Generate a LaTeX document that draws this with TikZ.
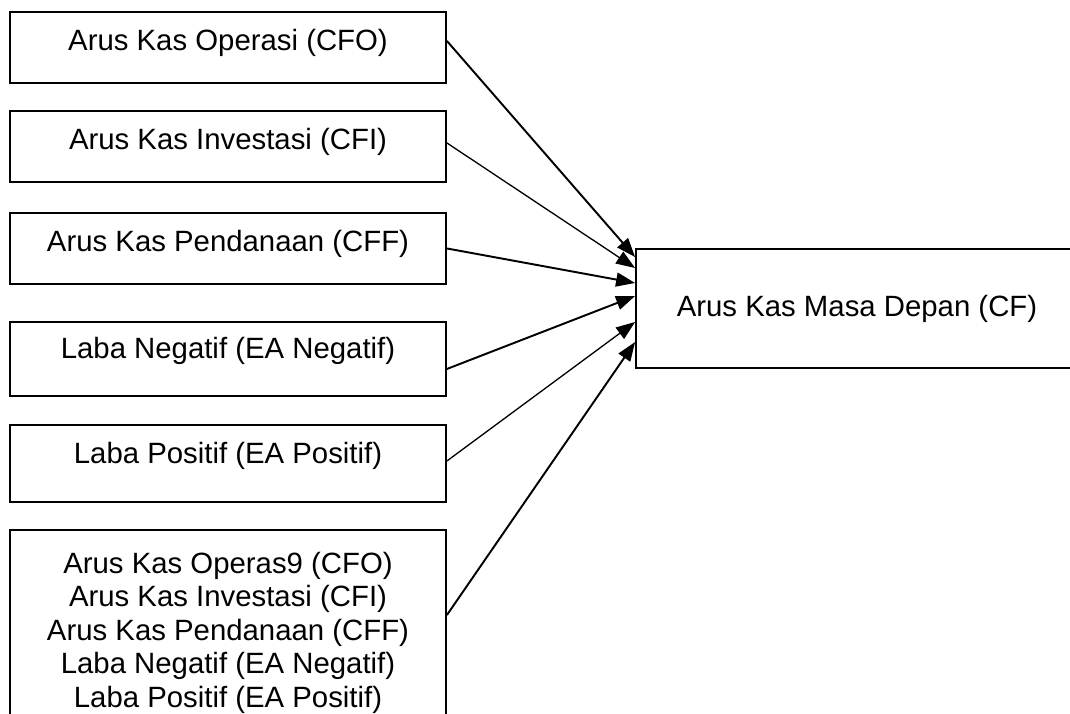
\documentclass[tikz,border=0pt]{standalone}
\usepackage{fontspec}
\setmainfont{Liberation Sans}
\usepackage{tikz}
\usetikzlibrary{arrows.meta}
\tikzset{
    kotak/.style={draw=black, line width=1.1pt, minimum width=8.72cm, inner sep=0pt,
        text height=0.77cm, text depth=0.65cm, anchor=north},
    panah/.style={-{Triangle[length=3.8mm, width=2.8mm]}, line width=1.1pt},
    panahtipis/.style={-{Triangle[length=3.8mm, width=2.8mm]}, line width=0.75pt}}

\begin{document}
\begin{tikzpicture}[x=0.02cm, y=-0.02cm,
    font=\fontsize{16.7pt}{19.1pt}\selectfont]

    \useasboundingbox (0,0) rectangle (1070,713);
    \clip (0,0) rectangle (1070,713);

    \node[kotak] (cfo) at (228,11) {Arus Kas Operasi (CFO)};
    \node[kotak] (cfi) at (228,110) {Arus Kas Investasi (CFI)};
    \node[kotak] (cff) at (228,212) {Arus Kas Pendanaan (CFF)};
    \node[kotak, text height=0.74cm, text depth=0.74cm] (eaneg) at (228,321) {Laba Negatif (EA Negatif)};
    \node[kotak, text height=0.78cm, text depth=0.76cm] (eapos) at (228,424) {Laba Positif (EA Positif)};
    \node[draw=black, line width=1.1pt, minimum width=8.72cm, inner xsep=0pt, inner ysep=0.44cm,
        align=center, anchor=north] (gabungan) at (228,529)
        {Arus Kas Operas9 (CFO)\\Arus Kas Investasi (CFI)\\Arus Kas Pendanaan (CFF)\\Laba Negatif (EA Negatif)\\Laba Positif (EA Positif)};

    \node[draw=black, line width=1.1pt, minimum width=8.84cm, minimum height=2.38cm] (cf) at (857,308.5) {Arus Kas Masa Depan (CF)};

    \draw[panah] ([yshift=0.13cm]cfo.east) -- ([yshift=1.03cm]cf.west);
    \draw[panahtipis] ([yshift=0.07cm]cfi.east) -- ([yshift=0.81cm]cf.west);
    \draw[panah] (cff.east) -- ([yshift=0.51cm]cf.west);
    \draw[panah] ([yshift=-0.2cm]eaneg.east) -- ([yshift=0.25cm]cf.west);
    \draw[panahtipis] ([yshift=0.05cm]eapos.east) -- ([yshift=-0.27cm]cf.west);
    \draw[panah] ([yshift=-1.72cm]gabungan.north east) -- ([yshift=-0.67cm]cf.west);

\end{tikzpicture}
\end{document}
